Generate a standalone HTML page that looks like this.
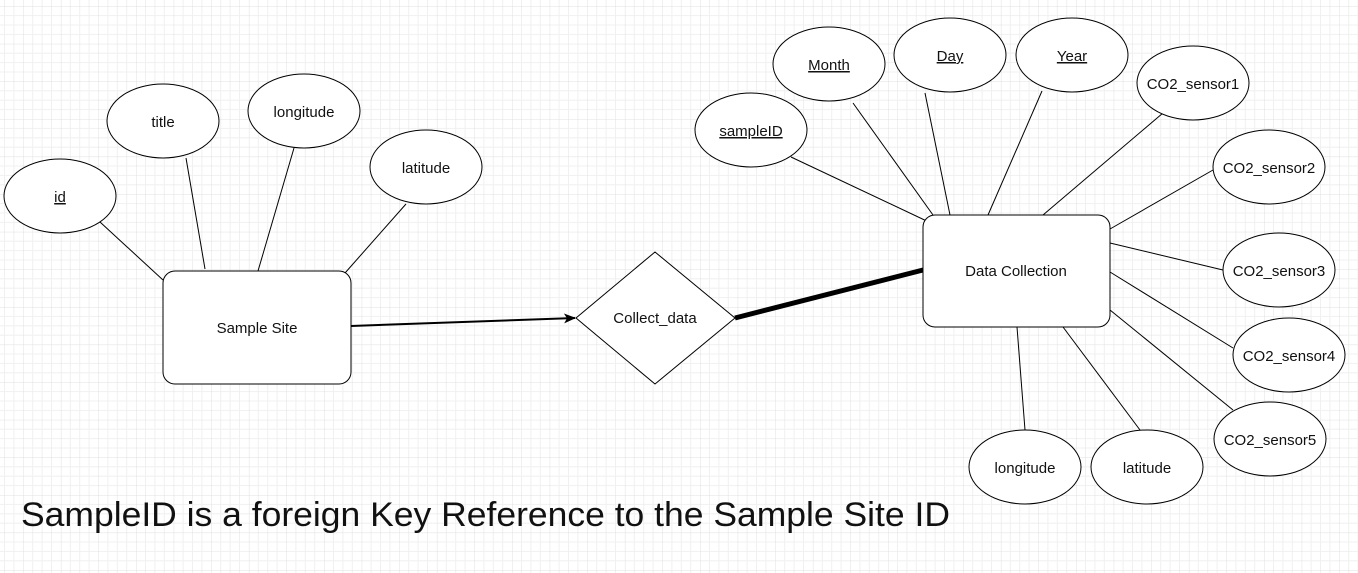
<!DOCTYPE html>
<html><head><meta charset="utf-8"><style>
html,body{margin:0;padding:0;background:#fff}
svg{display:block}
text{font-family:"Liberation Sans",Arial,sans-serif;font-size:15px;fill:#111}
</style></head><body>
<svg width="1358" height="573" viewBox="0 0 1358 573" xmlns="http://www.w3.org/2000/svg">
<defs>
<pattern id="g" x="23.3" y="6.2" width="37.6" height="37.6" patternUnits="userSpaceOnUse">
<path d="M9.4 0V37.6M18.8 0V37.6M28.2 0V37.6M0 9.4H37.6M0 18.8H37.6M0 28.2H37.6" stroke="#f0f0f0" stroke-width="1" fill="none"/>
<path d="M0 0V37.6M0 0H37.6" stroke="#e0e0e0" stroke-width="1" fill="none"/>
</pattern>
<marker id="ah" markerWidth="12" markerHeight="10" refX="11" refY="5" orient="auto" markerUnits="userSpaceOnUse">
<path d="M0,0 L12,5 L0,10 L3,5 Z" fill="#000"/>
</marker>
</defs>
<rect width="1358" height="573" fill="url(#g)"/>
<g stroke="#000" stroke-width="1" fill="none">
<line x1="100" y1="222" x2="163" y2="280"/>
<line x1="186" y1="158" x2="205" y2="269"/>
<line x1="294" y1="148" x2="258" y2="271"/>
<line x1="406" y1="204" x2="345" y2="273"/>
<line x1="791" y1="157" x2="933" y2="224"/>
<line x1="853" y1="103" x2="933" y2="215"/>
<line x1="925" y1="93" x2="950" y2="215"/>
<line x1="1042" y1="91" x2="988" y2="215"/>
<line x1="1163" y1="113" x2="1043" y2="215"/>
<line x1="1213" y1="170" x2="1110" y2="229"/>
<line x1="1223" y1="270" x2="1110" y2="243"/>
<line x1="1233" y1="348" x2="1110" y2="272"/>
<line x1="1233" y1="410" x2="1110" y2="310"/>
<line x1="1140" y1="430" x2="1063" y2="327"/>
<line x1="1025" y1="430" x2="1017" y2="327"/>
</g>
<line x1="351" y1="326" x2="575" y2="318" stroke="#000" stroke-width="2" marker-end="url(#ah)"/>
<line x1="735" y1="318" x2="923" y2="270" stroke="#000" stroke-width="5"/>
<g stroke="#000" stroke-width="1" fill="#fff">
<ellipse cx="60" cy="196" rx="56" ry="37"/>
<ellipse cx="163" cy="121" rx="56" ry="37"/>
<ellipse cx="304" cy="111" rx="56" ry="37"/>
<ellipse cx="426" cy="167" rx="56" ry="37"/>
<rect x="163" y="271" width="188" height="113" rx="12"/>
<polygon points="576,318 655,252 735,318 655,384"/>
<rect x="923" y="215" width="187" height="112" rx="12"/>
<ellipse cx="751" cy="130" rx="56" ry="37"/>
<ellipse cx="829" cy="64" rx="56" ry="37"/>
<ellipse cx="950" cy="55" rx="56" ry="37"/>
<ellipse cx="1072" cy="55" rx="56" ry="37"/>
<ellipse cx="1193" cy="83" rx="56" ry="37"/>
<ellipse cx="1269" cy="167" rx="56" ry="37"/>
<ellipse cx="1279" cy="270" rx="56" ry="37"/>
<ellipse cx="1289" cy="355" rx="56" ry="37"/>
<ellipse cx="1270" cy="439" rx="56" ry="37"/>
<ellipse cx="1025" cy="467" rx="56" ry="37"/>
<ellipse cx="1147" cy="467" rx="56" ry="37"/>
</g>
<g text-anchor="middle">
<text x="60" y="202" text-decoration="underline">id</text>
<text x="163" y="127">title</text>
<text x="304" y="117">longitude</text>
<text x="426" y="173">latitude</text>
<text x="257" y="333">Sample Site</text>
<text x="655" y="323">Collect_data</text>
<text x="1016" y="276">Data Collection</text>
<text x="751" y="136" text-decoration="underline">sampleID</text>
<text x="829" y="70" text-decoration="underline">Month</text>
<text x="950" y="61" text-decoration="underline">Day</text>
<text x="1072" y="61" text-decoration="underline">Year</text>
<text x="1193" y="89">CO2_sensor1</text>
<text x="1269" y="173">CO2_sensor2</text>
<text x="1279" y="276">CO2_sensor3</text>
<text x="1289" y="361">CO2_sensor4</text>
<text x="1270" y="445">CO2_sensor5</text>
<text x="1025" y="473">longitude</text>
<text x="1147" y="473">latitude</text>
</g>
<text x="21" y="526" style="font-size:34px" textLength="929" lengthAdjust="spacingAndGlyphs">SampleID is a foreign Key Reference to the Sample Site ID</text>
</svg>
</body></html>
